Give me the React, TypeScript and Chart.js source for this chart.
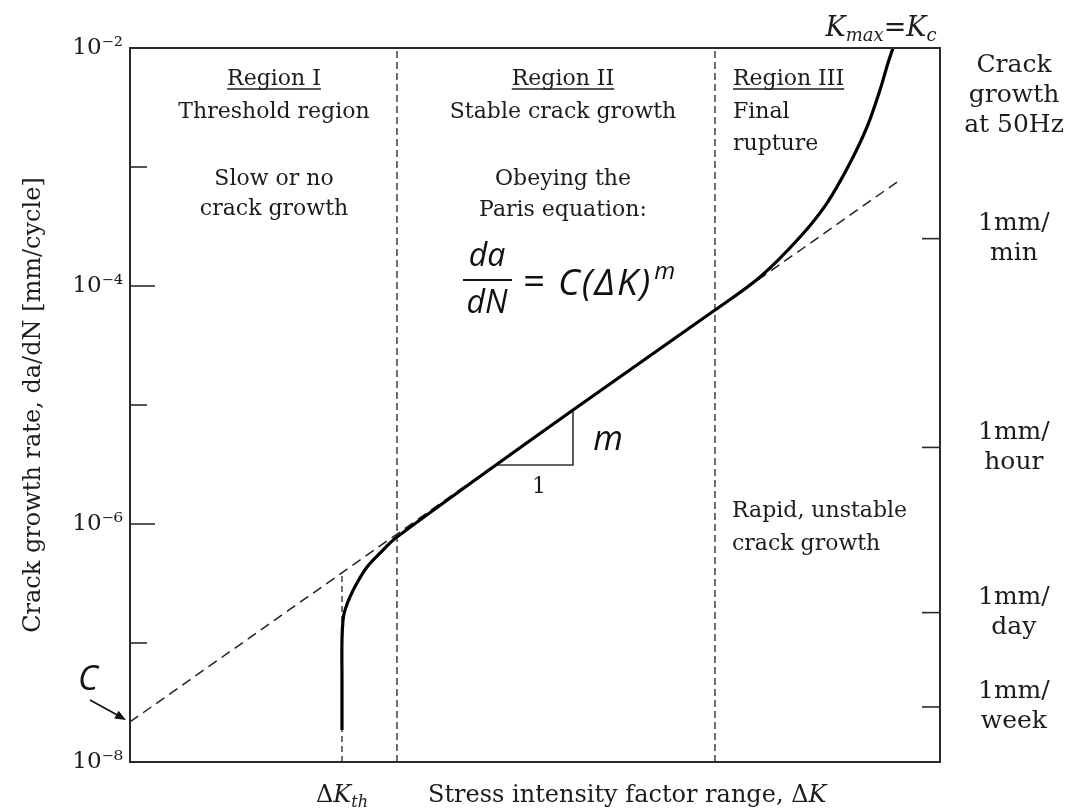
import React, { useEffect, useRef } from "react";
import { Chart, registerables } from "chart.js";

Chart.register(...registerables);

// ---------- data ----------
// x: position along the stress-intensity-range axis (arbitrary log units, 0..100)
// y: crack growth rate da/dN [mm/cycle]
const curveDK = [26.17, 26.17, 26.17, 26.3, 26.54, 27.16, 28.02, 29.26, 30.86, 32.96, 54.69, 72.22, 77.78, 82.72, 86.05, 88.89, 90.99, 92.59, 93.58, 94.2];
const curveRate = [1.86e-8, 4.89e-8, 1.06e-7, 1.56e-7, 1.89e-7, 2.44e-7, 3.19e-7, 4.35e-7, 5.7e-7, 7.78e-7, 9.08e-6, 6.28e-5, 1.19e-4, 2.58e-4, 4.98e-4, 1.08e-3, 2.17e-3, 4.44e-3, 7.48e-3, 1e-2];

const parisDK = [0, 94.7];
const parisRate = [2.17e-8, 7.48e-4];

const thresholdDK = [26.17, 26.17];
const thresholdRate = [1e-8, 3.87e-7];

const boundaryDK = [32.96, 72.22];
const boundaryRate = [1e-8, 1e-2];

const slopeDK = [45.31, 54.69, 54.69];
const slopeRate = [3.13e-6, 3.13e-6, 9.08e-6];

const leftTickValues = [1e-2, 1e-3, 1e-4, 1e-5, 1e-6, 1e-7, 1e-8];
const leftTickLabels = ["10⁻²", "", "10⁻⁴", "", "10⁻⁶", "", "10⁻⁸"];

const rightTickValues = [2.5e-4, 4.4e-6, 1.8e-7, 2.9e-8];
const rightTickLabels = [["1mm/", "min"], ["1mm/", "hour"], ["1mm/", "day"], ["1mm/", "week"]];

// ---------- helpers ----------
const SERIF = '"DejaVu Serif", "Liberation Serif", serif';
const SANS = '"Open Sans", "Noto Sans", sans-serif';
const sf = (size: number, style = "") => `${style} ${size}px ${SERIF}`.trim();
const ss = (size: number, style = "") => `${style} ${size}px ${SANS}`.trim();
const TEXT = "#1c1c1c";

const pts = (xs: number[], ys: number[]) => xs.map((x, i) => ({ x, y: ys[i] }));

function line(ctx: CanvasRenderingContext2D, x1: number, y1: number, x2: number, y2: number) {
  ctx.beginPath();
  ctx.moveTo(x1, y1);
  ctx.lineTo(x2, y2);
  ctx.stroke();
}

function put(ctx: CanvasRenderingContext2D, s: string, x: number, y: number, font: string, align: CanvasTextAlign = "center") {
  ctx.font = font;
  ctx.textAlign = align;
  ctx.textBaseline = "alphabetic";
  ctx.fillText(s, x, y);
  return ctx.measureText(s).width;
}

function underlined(ctx: CanvasRenderingContext2D, s: string, x: number, y: number, font: string, align: CanvasTextAlign = "center") {
  const w = put(ctx, s, x, y, font, align);
  const x0 = align === "center" ? x - w / 2 : x;
  ctx.lineWidth = 1.3;
  line(ctx, x0, y + 4, x0 + w, y + 4);
}

type Part = [string, string, number];
function rich(ctx: CanvasRenderingContext2D, parts: Part[], x: number, y: number, align: "left" | "center" = "left") {
  ctx.textAlign = "left";
  ctx.textBaseline = "alphabetic";
  let total = 0;
  parts.forEach(([t, f]) => {
    ctx.font = f;
    total += ctx.measureText(t).width;
  });
  let cx = align === "center" ? x - total / 2 : x;
  parts.forEach(([t, f, dy]) => {
    ctx.font = f;
    ctx.fillText(t, cx, y + dy);
    cx += ctx.measureText(t).width;
  });
}

const annotate = {
  id: "annotate",
  afterDraw(chart: any) {
    const { ctx, chartArea: a, scales } = chart;
    const xs = scales.x;
    const ys = scales.y;
    const y2 = scales.y2;
    ctx.save();

    // frame
    ctx.strokeStyle = "#2a2a2a";
    ctx.lineWidth = 2;
    ctx.strokeRect(a.left, a.top, a.right - a.left, a.bottom - a.top);

    // inward tick marks
    ctx.lineWidth = 1.6;
    leftTickValues.forEach((v, i) => {
      const p = ys.getPixelForValue(v);
      const len = leftTickLabels[i] ? 25 : 17;
      line(ctx, a.left, p, a.left + len, p);
    });
    rightTickValues.forEach((v) => {
      const p = y2.getPixelForValue(v);
      line(ctx, a.right - 18, p, a.right, p);
    });

    ctx.fillStyle = TEXT;
    ctx.strokeStyle = TEXT;

    // Region I
    underlined(ctx, "Region I", 274, 85, sf(22));
    put(ctx, "Threshold region", 274, 118, sf(22));
    put(ctx, "Slow or no", 274, 185, sf(22));
    put(ctx, "crack growth", 274, 215, sf(22));

    // Region II
    underlined(ctx, "Region II", 563, 85, sf(22));
    put(ctx, "Stable crack growth", 563, 118, sf(22));
    put(ctx, "Obeying the", 563, 185, sf(22));
    put(ctx, "Paris equation:", 563, 216, sf(22));

    // Region III
    underlined(ctx, "Region III", 733, 85, sf(22), "left");
    put(ctx, "Final", 733, 118, sf(22), "left");
    put(ctx, "rupture", 733, 150, sf(22), "left");
    put(ctx, "Rapid, unstable", 732, 517, sf(22), "left");
    put(ctx, "crack growth", 732, 550, sf(22), "left");

    // Paris equation
    ctx.fillStyle = "#111";
    put(ctx, "da", 487, 266, ss(32, "italic"));
    ctx.lineWidth = 1.8;
    ctx.strokeStyle = "#111";
    line(ctx, 463, 280, 512, 280);
    put(ctx, "dN", 487, 313, ss(32, "italic"));
    put(ctx, "=", 534, 294, ss(38));
    ctx.save();
    (ctx as any).letterSpacing = "2px";
    const eqW = put(ctx, "C(ΔK)", 558, 295, ss(37, "italic"), "left");
    ctx.restore();
    put(ctx, "m", 558 + eqW + 2, 279, ss(24, "italic"), "left");

    // slope annotation
    put(ctx, "m", 608, 450, ss(34, "italic"));
    ctx.fillStyle = TEXT;
    put(ctx, "1", 539, 493, sf(22));

    // C label with arrow to the Paris line intercept
    const cx = xs.getPixelForValue(parisDK[0]);
    const cy = ys.getPixelForValue(parisRate[0]);
    ctx.fillStyle = "#111";
    put(ctx, "C", cx - 42, cy - 32, ss(34, "italic"));
    ctx.strokeStyle = "#111";
    ctx.lineWidth = 1.6;
    const tx = cx - 4, ty = cy - 2;
    const fx = cx - 40, fy = cy - 22;
    line(ctx, fx, fy, tx - 6, ty - 3.5);
    const ang = Math.atan2(ty - fy, tx - fx);
    ctx.beginPath();
    ctx.moveTo(tx, ty);
    ctx.lineTo(tx - 11 * Math.cos(ang) + 4.5 * Math.sin(ang), ty - 11 * Math.sin(ang) - 4.5 * Math.cos(ang));
    ctx.lineTo(tx - 11 * Math.cos(ang) - 4.5 * Math.sin(ang), ty - 11 * Math.sin(ang) + 4.5 * Math.cos(ang));
    ctx.closePath();
    ctx.fill();

    // K_max = K_c
    ctx.fillStyle = TEXT;
    const kx = xs.getPixelForValue(curveDK[curveDK.length - 1]);
    rich(ctx, [
      ["K", sf(27, "italic"), 0],
      ["max", sf(18, "italic"), 5],
      ["=", sf(27), 0],
      ["K", sf(27, "italic"), 0],
      ["c", sf(18, "italic"), 5],
    ], kx - 12, 36, "center");

    // x axis labels
    const thx = xs.getPixelForValue(thresholdDK[0]);
    rich(ctx, [
      ["Δ", sf(24), 0],
      ["K", sf(24, "italic"), 0],
      ["th", sf(16, "italic"), 5],
    ], thx, 802, "center");
    rich(ctx, [
      ["Stress intensity factor range, Δ", sf(24), 0],
      ["K", sf(24, "italic"), 0],
    ], 428, 802, "left");

    // right header
    put(ctx, "Crack", 1014, 72, sf(25));
    put(ctx, "growth", 1014, 102, sf(25));
    put(ctx, "at 50Hz", 1014, 132, sf(25));

    ctx.restore();
  },
};

const noPad = (s: any) => {
  s.paddingTop = 0;
  s.paddingBottom = 0;
  s.paddingLeft = 0;
  s.paddingRight = 0;
};

export default function App() {
  const ref = useRef<HTMLCanvasElement | null>(null);

  useEffect(() => {
    if (!ref.current) return;
    const chart = new Chart(ref.current, {
      type: "line",
      data: {
        datasets: [
          { data: pts(curveDK, curveRate), borderColor: "#000", borderWidth: 3.2, tension: 0.35, pointRadius: 0 },
          { data: pts(slopeDK, slopeRate), borderColor: "#333", borderWidth: 1.6, tension: 0, pointRadius: 0 },
          { data: pts(parisDK, parisRate), borderColor: "#222", borderWidth: 1.5, borderDash: [10, 6], pointRadius: 0 },
          { data: pts(thresholdDK, thresholdRate), borderColor: "#111", borderWidth: 1.2, borderDash: [6, 4], pointRadius: 0 },
          { data: pts([boundaryDK[0], boundaryDK[0]], boundaryRate), borderColor: "#111", borderWidth: 1.2, borderDash: [7, 4], pointRadius: 0 },
          { data: pts([boundaryDK[1], boundaryDK[1]], boundaryRate), borderColor: "#111", borderWidth: 1.2, borderDash: [7, 4], pointRadius: 0 },
        ],
      },
      options: {
        animation: false,
        responsive: false,
        devicePixelRatio: 1,
        layout: { padding: { top: 48, left: 0, right: 0, bottom: 0 } },
        plugins: { legend: { display: false }, tooltip: { enabled: false } },
        scales: {
          x: {
            type: "linear",
            min: 0,
            max: 100,
            grid: { display: false },
            border: { display: false },
            ticks: { display: false },
            afterFit: (s: any) => { s.height = 47; noPad(s); },
          },
          y: {
            type: "logarithmic",
            position: "left",
            min: 1e-8,
            max: 1e-2,
            grid: { display: false, drawTicks: false },
            border: { display: false },
            afterBuildTicks: (s: any) => { s.ticks = leftTickValues.map((v) => ({ value: v })); },
            ticks: {
              autoSkip: false,
              padding: 7,
              color: TEXT,
              font: { family: SERIF, size: 23 },
              callback: (_v: any, i: number) => leftTickLabels[i],
            },
            title: {
              display: true,
              text: "Crack growth rate, da/dN [mm/cycle]",
              color: TEXT,
              font: { family: SERIF, size: 24 },
              padding: { top: 19, bottom: 0 },
            },
            afterFit: (s: any) => { s.width = 130; noPad(s); },
          },
          y2: {
            type: "logarithmic",
            position: "right",
            min: 1e-8,
            max: 1e-2,
            grid: { display: false, drawTicks: false },
            border: { display: false },
            afterBuildTicks: (s: any) => { s.ticks = rightTickValues.map((v) => ({ value: v })); },
            ticks: {
              autoSkip: false,
              padding: 38,
              crossAlign: "center",
              color: TEXT,
              font: { family: SERIF, size: 25 },
              callback: (_v: any, i: number) => rightTickLabels[i],
            },
            afterFit: (s: any) => { s.width = 133; noPad(s); },
          },
        },
      } as any,
      plugins: [annotate],
    });
    return () => chart.destroy();
  }, []);

  return (
    <div style={{ position: "fixed", left: 0, top: 0, width: 1073, height: 809, background: "#fff" }}>
      <canvas ref={ref} width={1073} height={809} />
    </div>
  );
}
